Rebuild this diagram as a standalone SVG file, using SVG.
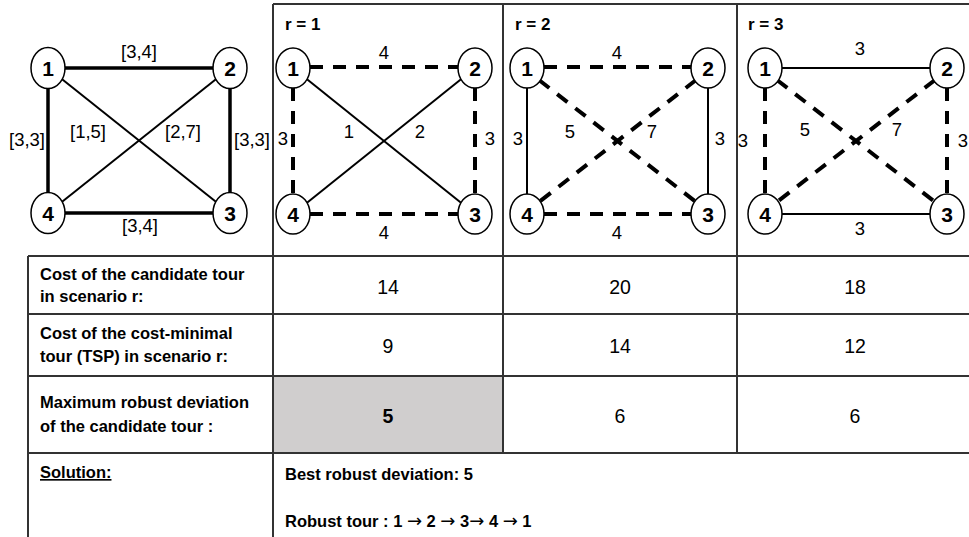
<svg xmlns="http://www.w3.org/2000/svg" width="969" height="537" viewBox="0 0 969 537">
<style>
text{font-family:"Liberation Sans",Arial,sans-serif;fill:#000}
.nd{fill:#fff;stroke:#000;stroke-width:1.5}
.nl{font-size:21px;font-weight:bold;text-anchor:middle}
.el{font-size:18.5px;text-anchor:middle}
.thick{stroke:#000;stroke-width:3.5}
.thin{stroke:#000;stroke-width:2}
.dash{stroke:#000;stroke-width:4;stroke-dasharray:13 10}
.grid{stroke:#333;stroke-width:2;fill:none}
.hd{font-size:17px;font-weight:bold}
.tl{font-size:16.5px;font-weight:bold}
.num{font-size:19.5px;text-anchor:middle}
.arr{font-weight:normal;font-family:"DejaVu Sans",sans-serif;font-size:18px}
</style>
<rect width="969" height="537" fill="#fff"/>
<rect x="273" y="376" width="230" height="77" fill="#d0cece"/>
<g id="table" class="grid">
<line x1="273" y1="4" x2="969" y2="4"/>
<line x1="28" y1="256" x2="969" y2="256"/>
<line x1="28" y1="314" x2="969" y2="314"/>
<line x1="28" y1="376" x2="969" y2="376"/>
<line x1="28" y1="453" x2="969" y2="453"/>
<line x1="28" y1="256" x2="28" y2="537"/>
<line x1="273" y1="4" x2="273" y2="537"/>
<line x1="503" y1="4" x2="503" y2="453"/>
<line x1="737" y1="4" x2="737" y2="453"/>
</g>
<g id="connectors">
<line class="thick" x1="48" y1="68" x2="230" y2="68"/>
<line class="thick" x1="48" y1="68" x2="48" y2="213"/>
<line class="thick" x1="230" y1="68" x2="230" y2="213"/>
<line class="thick" x1="48" y1="213" x2="230" y2="213"/>
<line class="thin" x1="48" y1="68" x2="230" y2="213"/>
<line class="thin" x1="230" y1="68" x2="48" y2="213"/>
<line class="dash" x1="310" y1="67" x2="458" y2="67"/>
<line class="dash" x1="310" y1="214" x2="458" y2="214"/>
<line class="dash" x1="293" y1="88" x2="293" y2="194"/>
<line class="dash" x1="475" y1="88" x2="475" y2="194"/>
<line class="thin" x1="293" y1="68" x2="475" y2="214"/>
<line class="thin" x1="475" y1="68" x2="293" y2="214"/>
<line class="dash" x1="544" y1="67" x2="691" y2="67"/>
<line class="dash" x1="544" y1="214" x2="691" y2="214"/>
<line class="thin" x1="527" y1="68" x2="527" y2="214"/>
<line class="thin" x1="708" y1="68" x2="708" y2="214"/>
<line class="dash" x1="539" y1="80" x2="696" y2="202"/>
<line class="dash" x1="696" y1="80" x2="539" y2="202"/>
<line class="thin" x1="765" y1="68" x2="947" y2="68"/>
<line class="thin" x1="765" y1="214" x2="947" y2="214"/>
<line class="dash" x1="765" y1="88" x2="765" y2="194"/>
<line class="dash" x1="947" y1="88" x2="947" y2="194"/>
<line class="dash" x1="777" y1="80" x2="935" y2="202"/>
<line class="dash" x1="935" y1="80" x2="777" y2="202"/>
</g>
<g id="g0-labels">
<text class="el" x="139" y="58">[3,4]</text>
<text class="el" x="140" y="232">[3,4]</text>
<text class="el" x="27" y="146">[3,3]</text>
<text class="el" x="252" y="146">[3,3]</text>
<text class="el" x="88" y="138">[1,5]</text>
<text class="el" x="183" y="138">[2,7]</text>
</g>
<g id="g0-n1"><ellipse class="nd" cx="48" cy="68" rx="17" ry="20.5"/><text class="nl" x="48" y="75.5">1</text></g>
<g id="g0-n2"><ellipse class="nd" cx="230" cy="68" rx="17" ry="20.5"/><text class="nl" x="230" y="75.5">2</text></g>
<g id="g0-n3"><ellipse class="nd" cx="230" cy="213" rx="17" ry="20.5"/><text class="nl" x="230" y="220.5">3</text></g>
<g id="g0-n4"><ellipse class="nd" cx="48" cy="213" rx="17" ry="20.5"/><text class="nl" x="48" y="220.5">4</text></g>

<g id="r1-labels">
<text class="hd" x="285" y="30">r = 1</text>
<text class="el" x="384" y="59">4</text>
<text class="el" x="384" y="239">4</text>
<text class="el" x="283" y="145">3</text>
<text class="el" x="490" y="145">3</text>
<text class="el" x="349" y="138">1</text>
<text class="el" x="420" y="138">2</text>
</g>
<g id="r1-n1"><ellipse class="nd" cx="293" cy="68" rx="17" ry="20"/><text class="nl" x="293" y="75.5">1</text></g>
<g id="r1-n2"><ellipse class="nd" cx="475" cy="68" rx="17" ry="20"/><text class="nl" x="475" y="75.5">2</text></g>
<g id="r1-n3"><ellipse class="nd" cx="475" cy="214" rx="17" ry="20"/><text class="nl" x="475" y="221.5">3</text></g>
<g id="r1-n4"><ellipse class="nd" cx="293" cy="214" rx="17" ry="20"/><text class="nl" x="293" y="221.5">4</text></g>

<g id="r2-labels">
<text class="hd" x="515" y="30">r = 2</text>
<text class="el" x="617" y="59">4</text>
<text class="el" x="617" y="239">4</text>
<text class="el" x="518" y="145">3</text>
<text class="el" x="720" y="145">3</text>
<text class="el" x="570" y="138">5</text>
<text class="el" x="652" y="138">7</text>
</g>
<g id="r2-n1"><ellipse class="nd" cx="527" cy="68" rx="17" ry="20"/><text class="nl" x="527" y="75.5">1</text></g>
<g id="r2-n2"><ellipse class="nd" cx="708" cy="68" rx="17" ry="20"/><text class="nl" x="708" y="75.5">2</text></g>
<g id="r2-n3"><ellipse class="nd" cx="708" cy="214" rx="17" ry="20"/><text class="nl" x="708" y="221.5">3</text></g>
<g id="r2-n4"><ellipse class="nd" cx="527" cy="214" rx="17" ry="20"/><text class="nl" x="527" y="221.5">4</text></g>

<g id="r3-labels">
<text class="hd" x="748" y="30">r = 3</text>
<text class="el" x="860" y="55">3</text>
<text class="el" x="860" y="235">3</text>
<text class="el" x="743" y="147">3</text>
<text class="el" x="963" y="147">3</text>
<text class="el" x="805" y="136">5</text>
<text class="el" x="897" y="136">7</text>
</g>
<g id="r3-n1"><ellipse class="nd" cx="765" cy="68" rx="17" ry="20"/><text class="nl" x="765" y="75.5">1</text></g>
<g id="r3-n2"><ellipse class="nd" cx="947" cy="68" rx="17" ry="20"/><text class="nl" x="947" y="75.5">2</text></g>
<g id="r3-n3"><ellipse class="nd" cx="947" cy="214" rx="17" ry="20"/><text class="nl" x="947" y="221.5">3</text></g>
<g id="r3-n4"><ellipse class="nd" cx="765" cy="214" rx="17" ry="20"/><text class="nl" x="765" y="221.5">4</text></g>

<g id="table-text">
<text class="tl" x="40" y="280">Cost of the candidate tour</text>
<text class="tl" x="40" y="302">in scenario r:</text>
<text class="tl" x="40" y="339">Cost of the cost-minimal</text>
<text class="tl" x="40" y="362">tour (TSP) in scenario r:</text>
<text class="tl" x="40" y="408">Maximum robust deviation</text>
<text class="tl" x="40" y="432">of the candidate tour :</text>
<text class="tl" x="40" y="478" text-decoration="underline">Solution:</text>
<text class="num" x="388" y="294">14</text>
<text class="num" x="620" y="294">20</text>
<text class="num" x="855" y="294">18</text>
<text class="num" x="388" y="353">9</text>
<text class="num" x="620" y="353">14</text>
<text class="num" x="855" y="353">12</text>
<text class="num" x="388" y="423" font-weight="bold">5</text>
<text class="num" x="620" y="423">6</text>
<text class="num" x="855" y="423">6</text>
<text class="tl" x="285" y="480">Best robust deviation: 5</text>
<text class="tl" x="285" y="527">Robust tour : 1 <tspan class="arr">→</tspan> 2 <tspan class="arr">→</tspan> 3<tspan class="arr">→</tspan> 4 <tspan class="arr">→</tspan> 1</text>
</g>
</svg>
